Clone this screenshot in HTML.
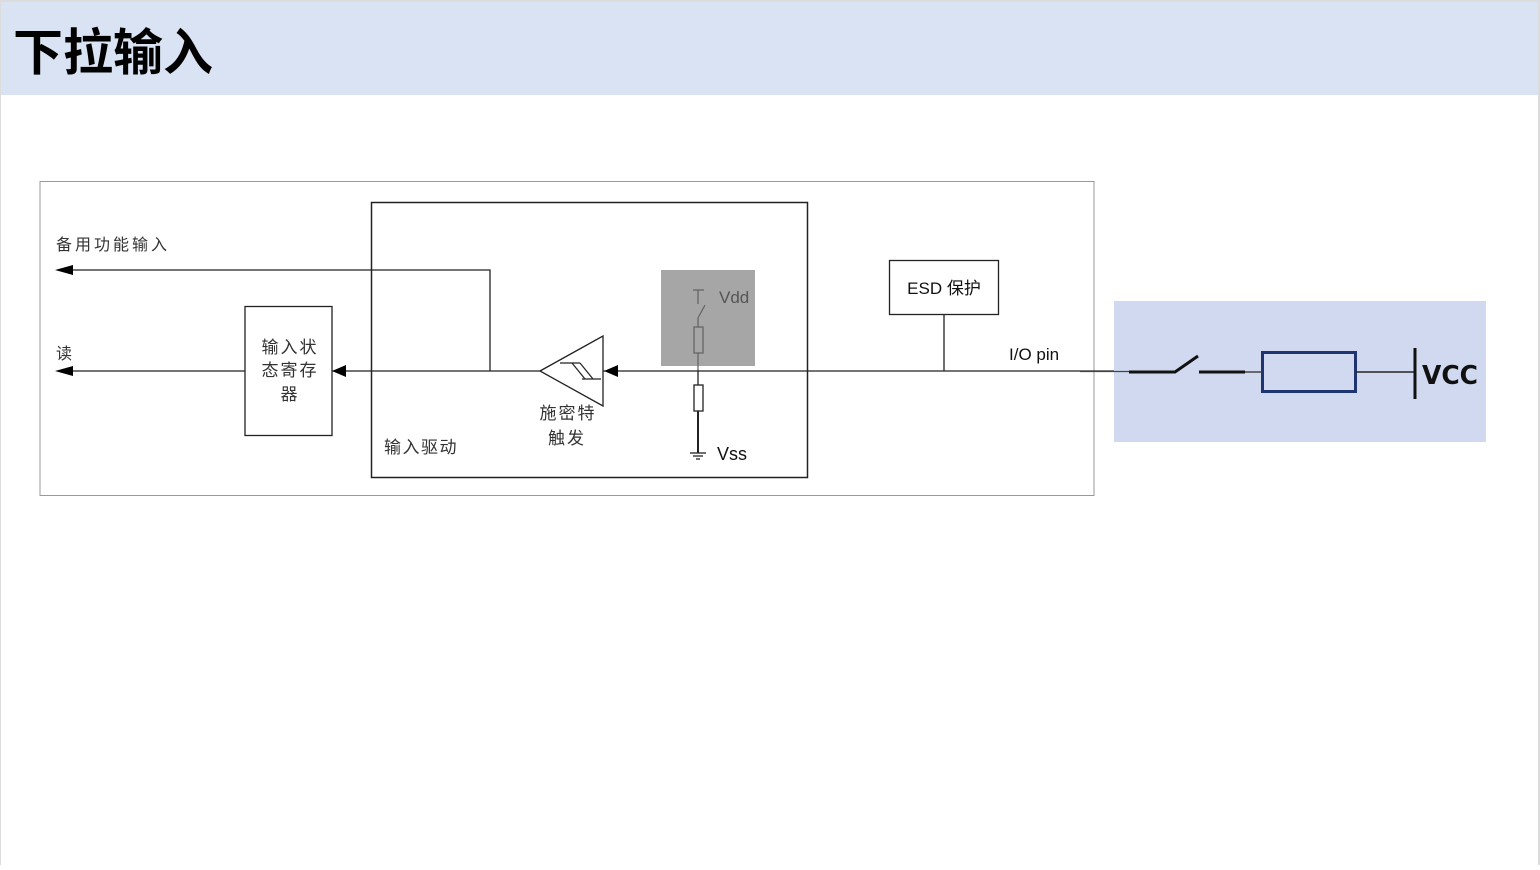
<!DOCTYPE html>
<html><head><meta charset="utf-8"><style>
html,body{margin:0;padding:0;background:#fff;}
body{width:1540px;height:865px;overflow:hidden;position:relative;}
</style></head><body>
<svg width="1540" height="865" xmlns="http://www.w3.org/2000/svg" font-family="Liberation Sans, Noto Sans CJK SC, sans-serif">
<rect x="0" y="0" width="1540" height="2" fill="#dcdcdc"/>
<rect x="0" y="2" width="1538" height="93" fill="#dae3f3"/>
<rect x="1538" y="0" width="2" height="865" fill="#dcdcdc"/>
<rect x="0" y="0" width="1" height="865" fill="#dcdcdc"/>
<text x="13" y="70" font-size="50" font-weight="bold" font-family="Noto Sans CJK SC, sans-serif">下拉输入</text>

<rect x="40" y="181.5" width="1054" height="314" fill="none" stroke="#999" stroke-width="1"/>
<rect x="371.5" y="202.5" width="436" height="275" fill="none" stroke="#222" stroke-width="1.5"/>
<rect x="661" y="270" width="94" height="96" fill="#a6a6a6"/>
<g stroke="#666" stroke-width="1.3" fill="none">
<line x1="693" y1="290" x2="704" y2="290"/><line x1="698" y1="290" x2="698" y2="304"/>
<line x1="698" y1="318" x2="705" y2="305"/><line x1="698" y1="318" x2="698" y2="327"/>
<rect x="694" y="327" width="9" height="26"/><line x1="698" y1="353" x2="698" y2="371"/>
</g>
<text x="719" y="303" font-size="17" fill="#555">Vdd</text>
<line x1="62" y1="371" x2="1128" y2="371" stroke="#222" stroke-width="1.3"/>
<path d="M55,371 l18,-5 v10z" fill="#000"/>
<path d="M332,371 l14,-6 v12z" fill="#000"/>
<path d="M604,371 l14,-6 v12z" fill="#000"/>
<polyline points="62,270 490,270 490,371" fill="none" stroke="#222" stroke-width="1.3"/>
<path d="M55,270 l18,-5 v10z" fill="#000"/>
<text x="56" y="250" font-size="16" fill="#333" letter-spacing="3">备用功能输入</text>
<text x="56" y="359" font-size="16" fill="#333">读</text>
<rect x="245" y="306.5" width="87" height="129" fill="#fff" stroke="#222" stroke-width="1.3"/>
<text font-size="17" fill="#333" text-anchor="middle" letter-spacing="2"><tspan x="290" y="353">输入状</tspan><tspan x="290" y="376">态寄存</tspan><tspan x="290" y="400">器</tspan></text>
<text x="384" y="453" font-size="17" fill="#333" letter-spacing="1.5">输入驱动</text>
<polygon points="540,371 603,336 603,406" fill="#fff" stroke="#222" stroke-width="1.3"/>
<g fill="none" stroke="#222" stroke-width="1.2">
<line x1="560" y1="363" x2="580" y2="363"/>
<line x1="582" y1="379" x2="601" y2="379"/>
<line x1="572" y1="363" x2="585" y2="379"/>
<line x1="580" y1="363" x2="593" y2="379"/>
</g>
<text font-size="17" fill="#333" text-anchor="middle" letter-spacing="2"><tspan x="568" y="419">施密特</tspan><tspan x="567" y="444">触发</tspan></text>
<g stroke="#222" stroke-width="1.3" fill="none">
<line x1="698" y1="371" x2="698" y2="385"/>
<rect x="694" y="385" width="9" height="26" fill="#fff"/>
<line x1="698" y1="411" x2="698" y2="453" stroke-width="2"/>
<line x1="690" y1="453" x2="706" y2="453"/><line x1="693" y1="456" x2="703" y2="456"/><line x1="696" y1="459" x2="700" y2="459"/>
</g>
<text x="717" y="460" font-size="18" fill="#111">Vss</text>
<rect x="889.5" y="260.5" width="109" height="54" fill="#fff" stroke="#222" stroke-width="1.3"/>
<text x="944" y="294" font-size="17" fill="#111" text-anchor="middle">ESD 保护</text>
<line x1="944" y1="315" x2="944" y2="371" stroke="#222" stroke-width="1.3"/>
<text x="1009" y="360" font-size="17" fill="#111">I/O pin</text>
<rect x="1114" y="301" width="372" height="141" fill="#d0d9f0"/>
<line x1="1080" y1="371.5" x2="1130" y2="371.5" stroke="#444" stroke-width="1.3"/>
<g stroke="#111" stroke-width="3" fill="none">
<polyline points="1129,372 1175,372 1198,356"/>
<line x1="1199" y1="372" x2="1245" y2="372"/>
</g>
<line x1="1245" y1="372" x2="1262" y2="372" stroke="#444" stroke-width="1.5"/>
<rect x="1262.5" y="352.5" width="93" height="39" fill="none" stroke="#1f3570" stroke-width="3"/>
<line x1="1356" y1="372" x2="1415" y2="372" stroke="#222" stroke-width="1.5"/>
<line x1="1415" y1="348" x2="1415" y2="399" stroke="#111" stroke-width="3"/>
<text x="1422" y="384" font-size="26" font-weight="bold" fill="#111" font-family="DejaVu Sans, sans-serif" textLength="56" lengthAdjust="spacingAndGlyphs">VCC</text>
</svg>
</body></html>
